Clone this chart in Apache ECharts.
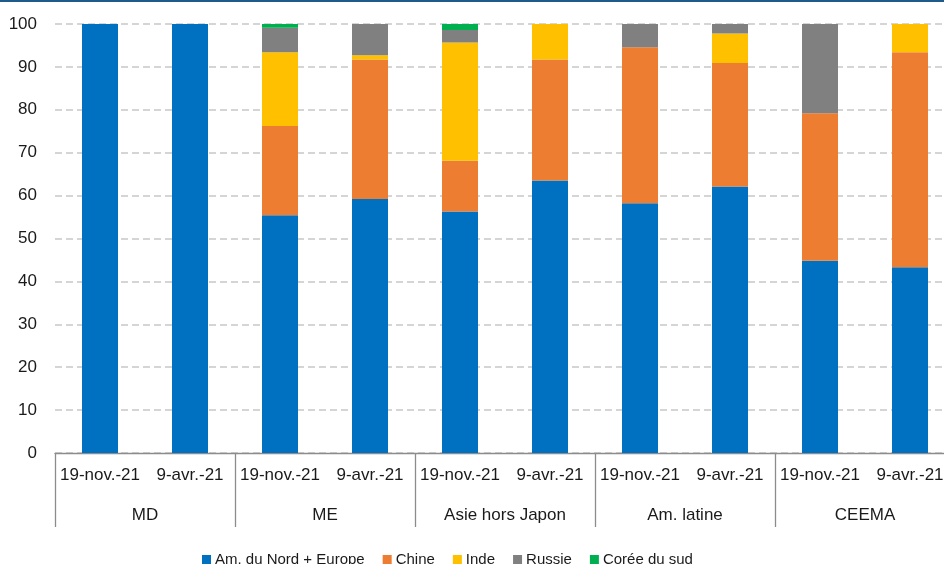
<!DOCTYPE html>
<html>
<head>
<meta charset="utf-8">
<script src="https://cdn.jsdelivr.net/npm/echarts@6/dist/echarts.min.js"></script>
<style>html,body{margin:0;padding:0;background:#fff;overflow:hidden}#c{width:960px;height:564px}</style>
</head>
<body>
<div id="c"></div>
<script>
const dates = ['19-nov.-21','9-avr.-21','19-nov.-21','9-avr.-21','19-nov.-21','9-avr.-21','19-nov.-21','9-avr.-21','19-nov.-21','9-avr.-21'];
const groups = ['MD','ME','Asie hors Japon','Am. latine','CEEMA'];
const yTicks = [0,10,20,30,40,50,60,70,80,90,100];
const seriesNames = ['Am. du Nord + Europe','Chine','Inde','Russie','Corée du sud'];
const amNordEurope = [100,100,55.4,59.2,56.3,63.5,58.2,62.1,44.8,43.3];
const chine        = [0,0,20.8,32.5,11.8,28.2,36.4,28.8,34.4,50.1];
const inde         = [0,0,17.2,1.0,27.6,8.3,0,6.9,0,6.6];
const russie       = [0,0,5.7,7.3,2.9,0,5.4,2.2,20.8,0];
const coreeSud     = [0,0,0.9,0,1.4,0,0,0,0,0];
const colors = ['#0070C0','#ED7D31','#FFC000','#808080','#00B050'];

const FONT = "'Liberation Sans', Arial, sans-serif";
const FS = 17;
const values = [amNordEurope, chine, inde, russie, coreeSud];

const chart = echarts.init(document.getElementById('c'), null, {renderer:'canvas'});
chart.setOption({
  animation:false,
  textStyle:{fontFamily:FONT},
  graphic:[{type:'rect',left:0,top:0,shape:{width:960,height:2},style:{fill:'#1F5A8A'}}],
  grid:{left:55,width:900,top:24,bottom:111,containLabel:false},
  legend:{
    data:seriesNames, left:197, top:547, itemWidth:9, itemHeight:9, itemGap:18,
    icon:'rect', textStyle:{fontFamily:FONT,fontSize:15,color:'#1a1a1a',padding:[0,0,0,-1]}
  },
  xAxis:[{
    type:'category', data:dates, position:'bottom',
    axisLine:{show:true,lineStyle:{color:'#8c8c8c',width:1.3}},
    axisTick:{show:false},
    axisLabel:{fontFamily:FONT,fontSize:FS,color:'#1a1a1a',margin:14,interval:0}
  },{
    type:'category', data:groups, position:'bottom', offset:0,
    axisLine:{show:false},
    axisTick:{show:true,length:74,lineStyle:{color:'#8c8c8c',width:1.3}},
    axisLabel:{fontFamily:FONT,fontSize:FS,color:'#1a1a1a',margin:54,interval:0}
  }],
  yAxis:{
    type:'value', min:yTicks[0], max:yTicks[yTicks.length-1], interval:10,
    axisLine:{show:false}, axisTick:{show:false},
    axisLabel:{fontFamily:FONT,fontSize:FS,color:'#1a1a1a',margin:18},
    splitLine:{show:true,lineStyle:{color:'#c8c8c8',width:1.5,type:[7,4]}}
  },
  series: seriesNames.map((n,i)=>({
    name:n, type:'bar', stack:'total', xAxisIndex:0, barWidth:'40%',
    data:values[i], itemStyle:{color:colors[i]}
  }))
});
</script>
</body>
</html>
